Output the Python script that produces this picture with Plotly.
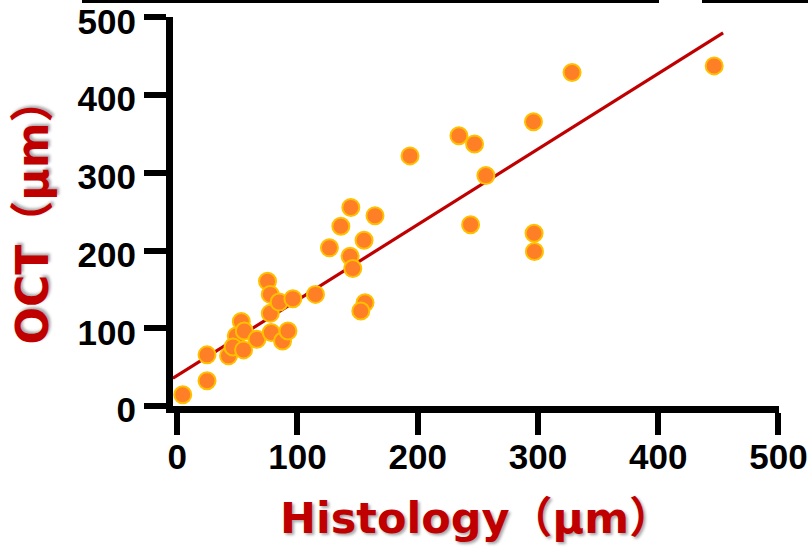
import plotly.graph_objects as go

# Data
histology = [4.6, 24.8, 24.8, 42.7, 49.1, 46.4, 53.3, 55.8, 55.2, 66.3,
             78.2, 87.6, 92.1, 77.4, 75.1, 77.4, 84.8, 96.2, 115.0, 126.6,
             136.1, 144.4, 164.5, 155.4, 143.8, 146.0, 156.2, 152.7,
             193.6, 234.3, 247.3, 256.7, 244.0, 296.3, 328.4, 446.6, 296.8, 297.1]
oct_vals = [14.5, 65.8, 32.4, 64.5, 90.1, 76.0, 108.6, 96.5, 72.2, 85.9,
            94.5, 83.7, 96.5, 119.2, 160.6, 143.6, 133.7, 138.1, 143.6, 203.5,
            231.2, 255.5, 244.9, 213.2, 192.7, 176.9, 132.9, 122.2,
            321.8, 347.8, 337.2, 296.5, 233.3, 365.8, 429.1, 437.6, 222.2, 198.7]

fit_x = [-3.5, 454.0]
fit_y = [35.7, 480.0]

tick_vals = [0, 100, 200, 300, 400, 500]
tick_text = ["0", "100", "200", "300", "400", "500"]

x_title = "Histology（μm）"
y_title = "OCT（μm）"

FONT = "Liberation Sans, Arial, Noto Sans CJK SC, sans-serif"
TITLE_FONT = "DejaVu Sans, Noto Sans CJK SC, sans-serif"
RED = "#C00000"
SHADOW = "2px 2px 3px rgba(0,0,0,0.35)"

fig = go.Figure()
fig.add_trace(go.Scatter(
    x=fit_x, y=fit_y, mode="lines",
    line=dict(color=RED, width=3.2), hoverinfo="skip", showlegend=False))
fig.add_trace(go.Scatter(
    x=histology, y=oct_vals, mode="markers",
    marker=dict(size=17, color="#FF7F27", line=dict(color="#FFC000", width=2)),
    showlegend=False))

L, R, T, B = 173, 29, 17, 152
W, H = 808, 558
pw, ph = W - L - R, H - T - B

def px_to_paper_x(px):
    return (px - L) / pw

def py_to_paper_y(py):
    return (H - B - py) / ph

shapes = []
for x0, x1 in [(82, 659), (702, 808)]:
    shapes.append(dict(type="line", xref="paper", yref="paper",
                       x0=px_to_paper_x(x0), x1=px_to_paper_x(x1),
                       y0=py_to_paper_y(1.5), y1=py_to_paper_y(1.5),
                       line=dict(color="black", width=3)))

axis_common = dict(
    showgrid=False, zeroline=False, showline=True, linecolor="black", linewidth=7,
    ticks="outside", ticklen=22, tickwidth=6, tickcolor="black", automargin=False,
    ticklabeloverflow="allow",
    tickfont=dict(family=FONT, size=35, color="black", weight="bold"),
)

fig.update_layout(
    width=W, height=H,
    margin=dict(l=L, r=R, t=T, b=B, pad=0, autoexpand=False),
    paper_bgcolor="white", plot_bgcolor="white",
    shapes=shapes,
    xaxis=dict(range=[-3.5, 500.5], tickvals=tick_vals, ticktext=tick_text,
               ticklabelstandoff=-8,
               title=dict(text=x_title, standoff=30,
                          font=dict(family=TITLE_FONT, size=43, color=RED, weight="bold",
                                    shadow=SHADOW)),
               **axis_common),
    yaxis=dict(range=[0, 500.5], tickvals=tick_vals, ticktext=tick_text,
               ticklabelstandoff=1, ticklabelshift=4,
               title=dict(text=y_title, standoff=18,
                          font=dict(family=TITLE_FONT, size=44, color=RED, weight="bold",
                                    shadow=SHADOW)),
               **axis_common),
)

fig.write_html(
    "out.html",
    config={"displayModeBar": False},
    post_script="document.body.style.margin='0';document.body.style.overflow='hidden';",
)
